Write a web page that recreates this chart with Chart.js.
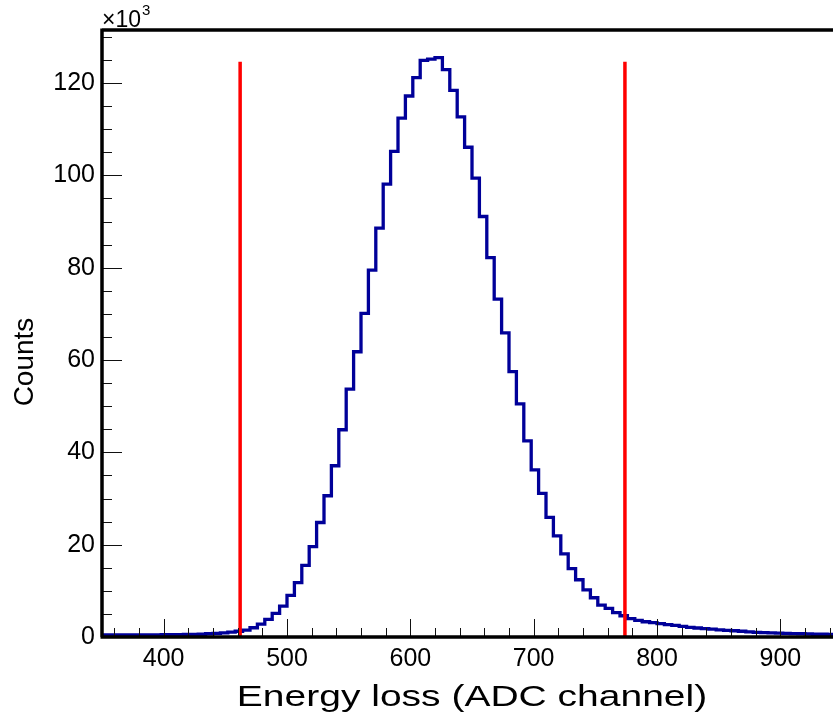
<!DOCTYPE html>
<html>
<head>
<meta charset="utf-8">
<script src="https://cdn.jsdelivr.net/npm/chart.js@4.4.1/dist/chart.umd.min.js"></script>
<style>
  html, body { margin: 0; padding: 0; background: #fff; overflow: hidden; }
  #wrap { width: 845px; height: 716px; }
</style>
</head>
<body>
<div id="wrap"><canvas id="c" width="845" height="716"></canvas></div>
<script>
// histogram binning, ADC channels
const binStart = 350;
const binWidth = 6;
// counts per bin, in units of 10^3
const counts = [
  0.45, 0.45, 0.45, 0.45, 0.45, 0.45, 0.45, 0.45, 0.5, 0.5,
  0.5, 0.55, 0.55, 0.6, 0.7, 0.8, 0.9, 1.05, 1.25, 1.5,
  2.0, 2.8, 3.8, 5.1, 6.7, 9.0, 11.8, 15.5, 19.6, 24.8,
  30.6, 37.1, 44.9, 53.7, 61.8, 70.1, 79.5, 88.6, 98.1, 105.2,
  112.4, 117.2, 121.2, 124.9, 125.2, 125.5, 122.9, 118.4, 112.7, 106.1,
  99.4, 91.1, 82.2, 73.2, 65.9, 57.5, 50.5, 42.5, 36.2, 31.1,
  25.9, 21.9, 18.0, 14.8, 12.4, 10.2, 8.5, 6.9, 6.2, 5.3,
  4.6, 4.0, 3.6, 3.3, 3.1, 2.9, 2.7, 2.5, 2.3, 2.1,
  1.95, 1.8, 1.7, 1.55, 1.45, 1.35, 1.25, 1.1, 1.0, 0.95,
  0.9, 0.85, 0.8, 0.75, 0.7, 0.65, 0.6, 0.6, 0.55, 0.55
];
const xTicks = [400, 500, 600, 700, 800, 900];
const yTicks = [0, 20, 40, 60, 80, 100, 120];
// cut positions (red lines)
const cutLow = 462;
const cutHigh = 774;
const cutTop = 124.6;

const FONT = '"Liberation Sans", Arial, Helvetica, sans-serif';

// left edges of bins + closing point for the step line
const histPoints = counts.map((c, i) => ({ x: binStart + i * binWidth, y: c }));
histPoints.push({ x: binStart + counts.length * binWidth, y: counts[counts.length - 1] });

// ROOT style frame: thick axes, ticks pointing inwards, axis titles
const rootFrame = {
  id: 'rootFrame',
  afterDatasetsDraw(chart) {
    const ctx = chart.ctx;
    const a = chart.chartArea;
    const xs = chart.scales.x, ys = chart.scales.y;
    ctx.save();

    // ticks
    ctx.strokeStyle = '#111';
    ctx.lineWidth = 1;
    ctx.beginPath();
    for (let v = 0; v <= 130; v += 5) {
      const py = Math.round(ys.getPixelForValue(v)) + 0.5;
      const len = v % 20 === 0 ? 20 : 10;
      ctx.moveTo(a.left, py);
      ctx.lineTo(a.left + len, py);
    }
    for (let v = 360; v <= 940; v += 20) {
      const px = Math.round(xs.getPixelForValue(v)) + 0.5;
      const len = v % 100 === 0 ? 18 : 9;
      ctx.moveTo(px, a.bottom);
      ctx.lineTo(px, a.bottom - len);
    }
    ctx.stroke();

    // axes
    ctx.strokeStyle = '#000';
    ctx.lineWidth = 3.5;
    ctx.beginPath();
    ctx.moveTo(a.left, a.top);
    ctx.lineTo(a.right + 5, a.top);
    ctx.moveTo(a.left, a.top - 1.5);
    ctx.lineTo(a.left, a.bottom);
    ctx.moveTo(a.left - 1.5, a.bottom);
    ctx.lineTo(a.right + 5, a.bottom);
    ctx.stroke();

    ctx.fillStyle = '#000';
    // exponent label
    ctx.textAlign = 'left';
    ctx.textBaseline = 'alphabetic';
    ctx.font = '23px ' + FONT;
    ctx.fillText('\u00d710', a.left, 27);
    ctx.font = '15px ' + FONT;
    ctx.fillText('3', a.left + 40, 15);

    // x title, ROOT text is a bit wider than Arial
    ctx.save();
    ctx.translate((a.left + a.right) / 2, 706);
    ctx.scale(1.3, 1);
    ctx.textAlign = 'center';
    ctx.font = '30px ' + FONT;
    ctx.fillText('Energy loss (ADC channel)', 0, 0);
    ctx.restore();

    // y title
    ctx.save();
    ctx.translate(33, 362);
    ctx.rotate(-Math.PI / 2);
    ctx.textAlign = 'center';
    ctx.font = '28px ' + FONT;
    ctx.fillText('Counts', 0, 0);
    ctx.restore();

    ctx.restore();
  }
};

new Chart(document.getElementById('c'), {
  type: 'line',
  data: {
    datasets: [
      {
        data: [{ x: cutLow, y: 0 }, { x: cutLow, y: cutTop }],
        borderColor: '#ff0000',
        borderWidth: 3.5,
        pointRadius: 0,
        order: 0
      },
      {
        data: [{ x: cutHigh, y: 0 }, { x: cutHigh, y: cutTop }],
        borderColor: '#ff0000',
        borderWidth: 3.5,
        pointRadius: 0,
        order: 0
      },
      {
        data: histPoints,
        stepped: true,
        borderColor: '#000099',
        borderWidth: 3.3,
        pointRadius: 0,
        fill: false,
        order: 1
      }
    ]
  },
  options: {
    responsive: false,
    animation: false,
    events: [],
    layout: { padding: { top: 30, right: 3, bottom: 0, left: 0 } },
    plugins: {
      legend: { display: false },
      tooltip: { enabled: false }
    },
    scales: {
      x: {
        type: 'linear',
        min: binStart,
        max: binStart + counts.length * binWidth,
        afterBuildTicks: s => { s.ticks = xTicks.map(v => ({ value: v })); },
        afterFit: s => { s.height = 79; },
        grid: { display: false, drawTicks: false },
        border: { display: false },
        ticks: {
          color: '#000',
          font: { family: FONT, size: 25 },
          padding: 7,
          maxRotation: 0,
          autoSkip: false
        }
      },
      y: {
        type: 'linear',
        min: 0,
        max: 131.5,
        afterBuildTicks: s => { s.ticks = yTicks.map(v => ({ value: v })); },
        afterFit: s => { s.width = 102; },
        grid: { display: false, drawTicks: false },
        border: { display: false },
        ticks: {
          color: '#000',
          font: { family: FONT, size: 25 },
          padding: 7
        }
      }
    }
  },
  plugins: [rootFrame]
});
</script>
</body>
</html>
